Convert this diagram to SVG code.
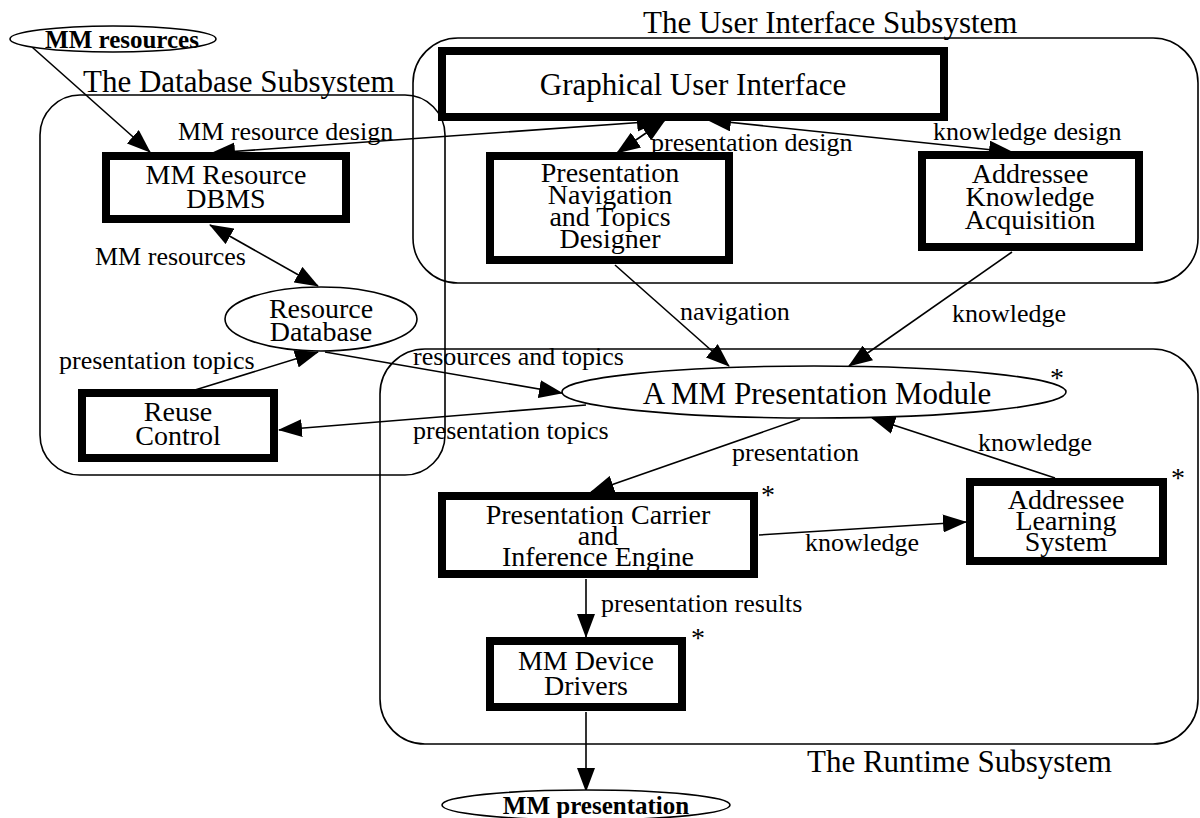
<svg xmlns="http://www.w3.org/2000/svg" width="1200" height="818" viewBox="0 0 1200 818">
<style>
  text { font-family: "Liberation Serif", "Times New Roman", serif; fill: #000; }
  .title { font-size: 31px; }
  .node1 { font-size: 31px; text-anchor: middle; }
  .node { font-size: 28px; text-anchor: middle; }
  .lbl { font-size: 26px; }
  .bold { font-size: 25px; font-weight: bold; }
  .ast { font-size: 28px; text-anchor: middle; }
  .box { fill: #fff; stroke: #000; stroke-width: 8; }
  .ell { fill: #fff; stroke: #000; stroke-width: 1.6; }
  .sub { fill: none; stroke: #000; stroke-width: 1.6; }
  .con { fill: none; stroke: #000; stroke-width: 1.6; }
</style>
<defs>
  <marker id="ah" viewBox="0 0 24 18" markerWidth="24" markerHeight="18" refX="23" refY="9" orient="auto-start-reverse" markerUnits="userSpaceOnUse">
    <path d="M0,0 L24,9 L0,18 z" fill="#000"/>
  </marker>
</defs>
<rect width="1200" height="818" fill="#fff"/>

<g id="subsystems">
  <rect class="sub" x="40" y="95" width="405" height="380" rx="40"/>
  <rect class="sub" x="413" y="38" width="785" height="245" rx="45"/>
  <rect class="sub" x="380" y="349" width="818" height="395" rx="45"/>
  <text class="title" x="83" y="92">The Database Subsystem</text>
  <text class="title" x="643" y="33">The User Interface Subsystem</text>
  <text class="title" x="807" y="772">The Runtime Subsystem</text>
</g>

<g id="connectors">
  <line class="con" x1="32" y1="47" x2="150" y2="152" marker-end="url(#ah)"/>
  <line class="con" x1="660" y1="121" x2="212" y2="153" marker-start="url(#ah)" marker-end="url(#ah)"/>
  <line class="con" x1="617" y1="153" x2="665" y2="120" marker-start="url(#ah)" marker-end="url(#ah)"/>
  <line class="con" x1="708" y1="120" x2="1012" y2="152" marker-start="url(#ah)" marker-end="url(#ah)"/>
  <line class="con" x1="210" y1="225" x2="318" y2="286" marker-start="url(#ah)" marker-end="url(#ah)"/>
  <line class="con" x1="195" y1="390" x2="318" y2="352" marker-end="url(#ah)"/>
  <line class="con" x1="325" y1="352" x2="562" y2="393" marker-end="url(#ah)"/>
  <line class="con" x1="586" y1="405" x2="279" y2="430" marker-end="url(#ah)"/>
  <line class="con" x1="615" y1="265" x2="729" y2="366" marker-end="url(#ah)"/>
  <line class="con" x1="1012" y1="252" x2="849" y2="366" marker-end="url(#ah)"/>
  <line class="con" x1="1055" y1="478" x2="872" y2="418" marker-end="url(#ah)"/>
  <line class="con" x1="800" y1="419" x2="591" y2="492" marker-end="url(#ah)"/>
  <line class="con" x1="759" y1="535" x2="966" y2="522" marker-end="url(#ah)"/>
  <line class="con" x1="586" y1="579" x2="586" y2="637" marker-end="url(#ah)"/>
  <line class="con" x1="586" y1="712" x2="586" y2="791" marker-end="url(#ah)"/>
  <text class="lbl" x="178" y="140">MM resource design</text>
  <text class="lbl" x="651" y="151">presentation design</text>
  <text class="lbl" x="933" y="140">knowledge design</text>
  <text class="lbl" x="95" y="265">MM resources</text>
  <text class="lbl" x="59" y="369">presentation topics</text>
  <text class="lbl" x="413" y="365">resources and topics</text>
  <text class="lbl" x="413" y="439">presentation topics</text>
  <text class="lbl" x="680" y="320">navigation</text>
  <text class="lbl" x="952" y="322">knowledge</text>
  <text class="lbl" x="978" y="451">knowledge</text>
  <text class="lbl" x="732" y="461">presentation</text>
  <text class="lbl" x="805" y="551">knowledge</text>
  <text class="lbl" x="601" y="612">presentation results</text>
</g>

<g id="mm-resources">
  <ellipse class="ell" cx="113" cy="39" rx="103" ry="13"/>
  <text class="bold" x="122" y="48" text-anchor="middle">MM resources</text>
</g>

<g id="gui">
  <rect class="box" x="442" y="51" width="502" height="66"/>
  <text class="node1" x="693" y="95">Graphical User Interface</text>
</g>

<g id="dbms">
  <rect class="box" x="106" y="156" width="240" height="63"/>
  <text class="node" x="226" y="184">MM Resource</text>
  <text class="node" x="226" y="208">DBMS</text>
</g>

<g id="designer">
  <rect class="box" x="490" y="156" width="239" height="104"/>
  <text class="node" x="610" y="182">Presentation</text>
  <text class="node" x="610" y="204">Navigation</text>
  <text class="node" x="610" y="226">and Topics</text>
  <text class="node" x="610" y="248">Designer</text>
</g>

<g id="knowledge-acquisition">
  <rect class="box" x="922" y="155" width="217" height="92"/>
  <text class="node" x="1030" y="183">Addressee</text>
  <text class="node" x="1030" y="206">Knowledge</text>
  <text class="node" x="1030" y="229">Acquisition</text>
</g>

<g id="resource-database">
  <ellipse class="ell" cx="321" cy="319" rx="96" ry="32"/>
  <text class="node" x="321" y="318">Resource</text>
  <text class="node" x="321" y="341">Database</text>
</g>

<g id="reuse-control">
  <rect class="box" x="82" y="393" width="192" height="65"/>
  <text class="node" x="178" y="421">Reuse</text>
  <text class="node" x="178" y="445">Control</text>
</g>

<g id="presentation-module">
  <ellipse class="ell" cx="814" cy="392" rx="252" ry="26"/>
  <text class="node1" x="817" y="404">A MM Presentation Module</text>
  <text class="ast" x="1057" y="387">*</text>
</g>

<g id="carrier">
  <rect class="box" x="442" y="496" width="312" height="78"/>
  <text class="node" x="598" y="524">Presentation Carrier</text>
  <text class="node" x="598" y="545">and</text>
  <text class="node" x="598" y="566">Inference Engine</text>
  <text class="ast" x="768" y="504">*</text>
</g>

<g id="learning-system">
  <rect class="box" x="970" y="482" width="193" height="79"/>
  <text class="node" x="1066" y="509">Addressee</text>
  <text class="node" x="1066" y="530">Learning</text>
  <text class="node" x="1066" y="551">System</text>
  <text class="ast" x="1178" y="487">*</text>
</g>

<g id="device-drivers">
  <rect class="box" x="490" y="641" width="192" height="66"/>
  <text class="node" x="586" y="670">MM Device</text>
  <text class="node" x="586" y="695">Drivers</text>
  <text class="ast" x="698" y="647">*</text>
</g>

<g id="mm-presentation">
  <ellipse class="ell" cx="586" cy="805" rx="144" ry="15"/>
  <text class="bold" x="596" y="814" text-anchor="middle">MM presentation</text>
</g>
</svg>
